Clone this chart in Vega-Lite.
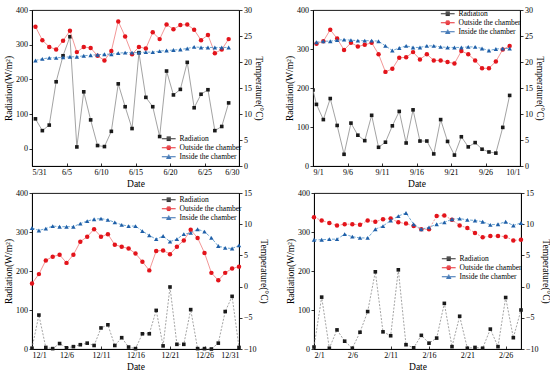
{
"$schema":"https://vega.github.io/schema/vega-lite/v6.json",
"background":"white",
"padding":{"left":3,"top":5,"right":2,"bottom":2},
"config":{
 "font":"Liberation Serif",
 "view":{"stroke":"#000","strokeWidth":0.9},
 "axis":{"grid":false,"labelOverlap":false,"domainColor":"#000","domainWidth":0.9,"tickColor":"#000","tickWidth":0.8,"tickSize":3,"labelColor":"#000","labelFont":"Liberation Serif","labelFontSize":8,"labelPadding":1.5,"titleColor":"#000","titleFont":"Liberation Serif","titleFontSize":9.5,"titleFontWeight":"normal","titlePadding":2},
 "axisX":{"tickSize":-3,"labelPadding":5,"titlePadding":2},
 "legend":{"labelFont":"Liberation Serif","labelFontSize":7.5,"labelColor":"#000","symbolSize":36,"rowPadding":0,"labelOffset":7,"symbolStrokeWidth":0.9,"orient":"none","title":null}
},
"datasets":{
"jun":[
{"d":0.5,"rad":86,"out":26.8,"ins":20.3},{"d":1.5,"rad":52,"out":24.2,"ins":20.6},{"d":2.5,"rad":68,"out":22.9,"ins":20.8},{"d":3.5,"rad":193,"out":22.4,"ins":20.8},{"d":4.5,"rad":268,"out":24.1,"ins":20.9},{"d":5.5,"rad":323,"out":26.0,"ins":21.0},{"d":6.5,"rad":5,"out":21.9,"ins":21.0},{"d":7.5,"rad":164,"out":22.9,"ins":21.2},{"d":8.5,"rad":83,"out":22.7,"ins":21.3},{"d":9.5,"rad":9,"out":21.2,"ins":21.4},{"d":10.5,"rad":6,"out":20.3,"ins":21.5},{"d":11.5,"rad":50,"out":22.1,"ins":21.5},{"d":12.5,"rad":187,"out":27.8,"ins":21.7},{"d":13.5,"rad":121,"out":24.9,"ins":21.8},{"d":14.5,"rad":58,"out":21.5,"ins":21.8},{"d":15.5,"rad":277,"out":22.9,"ins":21.8},{"d":16.5,"rad":148,"out":22.6,"ins":21.9},{"d":17.5,"rad":121,"out":25.7,"ins":21.9},{"d":18.5,"rad":35,"out":24.4,"ins":22.1},{"d":19.5,"rad":224,"out":27.2,"ins":22.2},{"d":20.5,"rad":155,"out":26.3,"ins":22.3},{"d":21.5,"rad":171,"out":27.1,"ins":22.4},{"d":22.5,"rad":249,"out":27.2,"ins":22.6},{"d":23.5,"rad":118,"out":26.2,"ins":22.9},{"d":24.5,"rad":157,"out":24.2,"ins":22.8},{"d":25.5,"rad":170,"out":25.2,"ins":22.8},{"d":26.5,"rad":52,"out":21.7,"ins":22.8},{"d":27.5,"rad":64,"out":22.4,"ins":22.8},{"d":28.5,"rad":132,"out":24.4,"ins":22.8}
],
"sep":[
{"d":0,"rad":195,"out":null,"ins":null},
{"d":0.5,"rad":158,"out":23.5,"ins":23.8},{"d":1.5,"rad":119,"out":24.0,"ins":24.0},{"d":2.5,"rad":173,"out":26.2,"ins":24.0},{"d":3.5,"rad":104,"out":24.5,"ins":24.2},{"d":4.5,"rad":30,"out":22.3,"ins":24.3},{"d":5.5,"rad":110,"out":23.7,"ins":24.2},{"d":6.5,"rad":79,"out":23.0,"ins":24.1},{"d":7.5,"rad":65,"out":23.3,"ins":24.1},{"d":8.5,"rad":130,"out":23.7,"ins":24.1},{"d":9.5,"rad":48,"out":21.5,"ins":24.0},{"d":10.5,"rad":61,"out":18.1,"ins":23.1},{"d":11.5,"rad":103,"out":18.7,"ins":22.2},{"d":12.5,"rad":140,"out":20.8,"ins":22.7},{"d":13.5,"rad":59,"out":20.9,"ins":23.1},{"d":14.5,"rad":144,"out":21.9,"ins":22.8},{"d":15.5,"rad":64,"out":20.5,"ins":22.8},{"d":16.5,"rad":64,"out":21.5,"ins":23.1},{"d":17.5,"rad":31,"out":20.3,"ins":23.1},{"d":18.5,"rad":119,"out":20.3,"ins":22.9},{"d":19.5,"rad":63,"out":20.0,"ins":22.8},{"d":20.5,"rad":28,"out":19.7,"ins":22.8},{"d":21.5,"rad":75,"out":22.1,"ins":22.8},{"d":22.5,"rad":49,"out":21.5,"ins":22.9},{"d":23.5,"rad":60,"out":20.3,"ins":22.9},{"d":24.5,"rad":43,"out":18.8,"ins":22.6},{"d":25.5,"rad":36,"out":18.8,"ins":22.2},{"d":26.5,"rad":33,"out":20.1,"ins":22.5},{"d":27.5,"rad":99,"out":22.4,"ins":22.6},{"d":28.5,"rad":181,"out":23.1,"ins":22.6}
],
"dec":[
{"d":0,"rad":2,"out":0.5,"ins":9.4},{"d":1,"rad":87,"out":2.0,"ins":9.0},{"d":2,"rad":4,"out":4.2,"ins":9.3},{"d":3,"rad":1,"out":4.8,"ins":9.7},{"d":4,"rad":14,"out":5.1,"ins":9.6},{"d":5,"rad":3,"out":3.8,"ins":9.6},{"d":6,"rad":6,"out":5.1,"ins":9.6},{"d":7,"rad":11,"out":7.2,"ins":10.1},{"d":8,"rad":15,"out":8.0,"ins":10.5},{"d":9,"rad":9,"out":9.2,"ins":10.8},{"d":10,"rad":54,"out":8.0,"ins":10.9},{"d":11,"rad":62,"out":8.4,"ins":10.7},{"d":12,"rad":9,"out":6.7,"ins":10.3},{"d":13,"rad":29,"out":6.4,"ins":9.9},{"d":14,"rad":5,"out":6.1,"ins":9.7},{"d":15,"rad":1,"out":5.3,"ins":9.7},{"d":16,"rad":39,"out":4.0,"ins":8.9},{"d":17,"rad":39,"out":2.6,"ins":8.2},{"d":18,"rad":99,"out":5.7,"ins":7.6},{"d":19,"rad":8,"out":5.8,"ins":8.1},{"d":20,"rad":159,"out":5.2,"ins":7.2},{"d":21,"rad":12,"out":6.4,"ins":7.6},{"d":22,"rad":12,"out":7.4,"ins":8.4},{"d":23,"rad":101,"out":9.1,"ins":8.6},{"d":24,"rad":1,"out":7.8,"ins":9.2},{"d":25,"rad":1,"out":5.4,"ins":8.8},{"d":26,"rad":0,"out":2.2,"ins":7.8},{"d":27,"rad":15,"out":1.0,"ins":6.5},{"d":28,"rad":96,"out":2.2,"ins":6.2},{"d":29,"rad":135,"out":2.9,"ins":6.1},{"d":30,"rad":4,"out":3.2,"ins":6.6}
],
"feb":[
{"d":0,"rad":5,"out":11.1,"ins":7.5},{"d":1,"rad":133,"out":10.6,"ins":7.5},{"d":2,"rad":2,"out":10.2,"ins":7.6},{"d":3,"rad":49,"out":9.8,"ins":7.6},{"d":4,"rad":20,"out":10.0,"ins":8.4},{"d":5,"rad":2,"out":10.0,"ins":8.0},{"d":6,"rad":43,"out":9.9,"ins":7.8},{"d":7,"rad":96,"out":10.6,"ins":7.8},{"d":8,"rad":198,"out":10.4,"ins":9.2},{"d":9,"rad":44,"out":10.8,"ins":9.7},{"d":10,"rad":34,"out":10.9,"ins":10.6},{"d":11,"rad":203,"out":10.3,"ins":11.3},{"d":12,"rad":11,"out":10.1,"ins":11.8},{"d":13,"rad":3,"out":9.7,"ins":10.0},{"d":14,"rad":35,"out":9.2,"ins":9.2},{"d":15,"rad":15,"out":9.2,"ins":9.5},{"d":16,"rad":28,"out":11.3,"ins":10.0},{"d":17,"rad":117,"out":11.4,"ins":10.3},{"d":18,"rad":6,"out":10.7,"ins":10.8},{"d":19,"rad":84,"out":9.8,"ins":10.9},{"d":20,"rad":2,"out":9.4,"ins":10.7},{"d":21,"rad":4,"out":8.6,"ins":10.6},{"d":22,"rad":2,"out":7.9,"ins":10.4},{"d":23,"rad":51,"out":8.1,"ins":9.9},{"d":24,"rad":6,"out":8.1,"ins":10.0},{"d":25,"rad":132,"out":8.0,"ins":10.4},{"d":26,"rad":29,"out":7.4,"ins":9.8},{"d":27,"rad":100,"out":7.5,"ins":10.2}
]
},
"spacing":0,
"resolve":{"scale":{"shape":"independent","color":"independent"}},
"vconcat":[
{"spacing":20,
 "resolve":{"scale":{"shape":"independent","color":"independent"}},
 "hconcat":[
 {"width":207,"height":156,"data":{"name":"jun"},
  "encoding":{"x":{"field":"d","type":"quantitative","scale":{"domain":[0,30],"nice":false,"zero":false},"axis":{"values":[0,5,10,15,20,25,30],"labelExpr":"['5/31','6/5','6/10','6/15','6/20','6/25','6/30'][round(datum.value/5)]","title":"Date"}}},
  "layer":[
   {"layer":[
     {"mark":{"type":"line","color":"#8c8c8c","strokeWidth":0.8},"encoding":{"y":{"field":"rad","type":"quantitative","scale":{"domain":[-50,400],"nice":false,"zero":false},"axis":{"orient":"left","values":[0,100,200,300,400],"title":"Radiation(W/m²)"}}}},
     {"mark":{"type":"point","shape":"square","filled":true,"color":"#1a1a1a","size":13,"opacity":1},"encoding":{"y":{"field":"rad","type":"quantitative","axis":{"orient":"left","values":[0,100,200,300,400],"title":"Radiation(W/m²)"}}}}
   ]},
   {"layer":[
     {"mark":{"type":"line","color":"#ef7c7c","strokeWidth":0.8},"encoding":{"y":{"field":"out","type":"quantitative","scale":{"domain":[0,30],"nice":false,"zero":false},"axis":{"orient":"right","values":[0,5,10,15,20,25,30],"title":"Temperature(°C)"}}}},
     {"mark":{"type":"point","shape":"circle","filled":true,"color":"#e3141b","size":20,"opacity":1},"encoding":{"y":{"field":"out","type":"quantitative","axis":{"orient":"right","values":[0,5,10,15,20,25,30],"title":"Temperature(°C)"}}}},
     {"mark":{"type":"line","color":"#4a90c8","strokeWidth":0.8,"strokeDash":[3,1.5]},"encoding":{"y":{"field":"ins","type":"quantitative","axis":{"orient":"right","values":[0,5,10,15,20,25,30],"title":"Temperature(°C)"}}}},
     {"mark":{"type":"point","shape":"triangle-up","filled":true,"color":"#1f5fa8","size":20,"opacity":1},"encoding":{"y":{"field":"ins","type":"quantitative","axis":{"orient":"right","values":[0,5,10,15,20,25,30],"title":"Temperature(°C)"}}}},
     {"transform":[{"filter":"false"}],"mark":{"type":"point","filled":false,"opacity":1,"strokeWidth":0.9},
      "encoding":{
       "shape":{"field":"series","type":"nominal","scale":{"domain":["Radiation","Outside the chamber","Inside the chamber"],"range":["M-2.3,0H2.3M-0.7,-0.6H0.7M-0.7,-0.3H0.7M-0.7,0.3H0.7M-0.7,0.6H0.7","M-2.3,0H2.3M-0.53,-0.6H0.53M-0.74,-0.3H0.74M-0.74,0.3H0.74M-0.53,0.6H0.53","M-2.3,0H2.3M-0.15,-0.6H0.15M-0.32,-0.3H0.32M-0.67,0.3H0.67M-0.82,0.55H0.82"]},"legend":{"legendX":133,"legendY":125}},
       "color":{"field":"series","type":"nominal","scale":{"domain":["Radiation","Outside the chamber","Inside the chamber"],"range":["#1a1a1a","#e3141b","#1f5fa8"]},"legend":{"legendX":133,"legendY":125}}
      }}
   ]}
  ],
  "resolve":{"scale":{"y":"independent"}}
 },
 {"width":207,"height":156,"data":{"name":"sep"},
  "encoding":{"x":{"field":"d","type":"quantitative","scale":{"domain":[0,30],"nice":false,"zero":false},"axis":{"values":[0,5,10,15,20,25,30],"labelExpr":"['9/1','9/6','9/11','9/16','9/21','9/26','10/1'][round(datum.value/5)]","title":"Date"}}},
  "layer":[
   {"layer":[
     {"mark":{"type":"line","color":"#8c8c8c","strokeWidth":0.8,"clip":true},"encoding":{"y":{"field":"rad","type":"quantitative","scale":{"domain":[0,400],"nice":false,"zero":false},"axis":{"orient":"left","values":[0,100,200,300,400],"title":"Radiation(W/m²)"}}}},
     {"mark":{"type":"point","shape":"square","filled":true,"color":"#1a1a1a","size":13,"opacity":1,"clip":true},"encoding":{"y":{"field":"rad","type":"quantitative","axis":{"orient":"left","values":[0,100,200,300,400],"title":"Radiation(W/m²)"}}}}
   ]},
   {"layer":[
     {"mark":{"type":"line","color":"#ef7c7c","strokeWidth":0.8},"encoding":{"y":{"field":"out","type":"quantitative","scale":{"domain":[0,30],"nice":false,"zero":false},"axis":{"orient":"right","values":[0,5,10,15,20,25,30],"title":"Temperature(°C)"}}}},
     {"mark":{"type":"point","shape":"circle","filled":true,"color":"#e3141b","size":20,"opacity":1},"encoding":{"y":{"field":"out","type":"quantitative","axis":{"orient":"right","values":[0,5,10,15,20,25,30],"title":"Temperature(°C)"}}}},
     {"mark":{"type":"line","color":"#4a90c8","strokeWidth":0.8,"strokeDash":[3,1.5]},"encoding":{"y":{"field":"ins","type":"quantitative","axis":{"orient":"right","values":[0,5,10,15,20,25,30],"title":"Temperature(°C)"}}}},
     {"mark":{"type":"point","shape":"triangle-up","filled":true,"color":"#1f5fa8","size":20,"opacity":1},"encoding":{"y":{"field":"ins","type":"quantitative","axis":{"orient":"right","values":[0,5,10,15,20,25,30],"title":"Temperature(°C)"}}}},
     {"transform":[{"filter":"false"}],"mark":{"type":"point","filled":false,"opacity":1,"strokeWidth":0.9},
      "encoding":{
       "shape":{"field":"series","type":"nominal","scale":{"domain":["Radiation","Outside the chamber","Inside the chamber"],"range":["M-2.3,0H2.3M-0.7,-0.6H0.7M-0.7,-0.3H0.7M-0.7,0.3H0.7M-0.7,0.6H0.7","M-2.3,0H2.3M-0.53,-0.6H0.53M-0.74,-0.3H0.74M-0.74,0.3H0.74M-0.53,0.6H0.53","M-2.3,0H2.3M-0.15,-0.6H0.15M-0.32,-0.3H0.32M-0.67,0.3H0.67M-0.82,0.55H0.82"]},"legend":{"legendX":131,"legendY":0}},
       "color":{"field":"series","type":"nominal","scale":{"domain":["Radiation","Outside the chamber","Inside the chamber"],"range":["#1a1a1a","#e3141b","#1f5fa8"]},"legend":{"legendX":131,"legendY":0}}
      }}
   ]}
  ],
  "resolve":{"scale":{"y":"independent"}}
 }
 ]},
{"spacing":16,
 "resolve":{"scale":{"shape":"independent","color":"independent"}},
 "hconcat":[
 {"width":207,"height":156,"data":{"name":"dec"},
  "encoding":{"x":{"field":"d","type":"quantitative","scale":{"domain":[0,30],"nice":false,"zero":false},"axis":{"values":[0,5,10,15,20,25,30],"labelExpr":"['12/1','12/6','12/11','12/16','12/21','12/26','12/31'][round(datum.value/5)]","title":"Date"}}},
  "layer":[
   {"layer":[
     {"mark":{"type":"line","color":"#8c8c8c","strokeWidth":0.8,"strokeDash":[2,1.5]},"encoding":{"y":{"field":"rad","type":"quantitative","scale":{"domain":[0,400],"nice":false,"zero":false},"axis":{"orient":"left","values":[0,100,200,300,400],"title":"Radiation(W/m²)"}}}},
     {"mark":{"type":"point","shape":"square","filled":true,"color":"#1a1a1a","size":13,"opacity":1},"encoding":{"y":{"field":"rad","type":"quantitative","axis":{"orient":"left","values":[0,100,200,300,400],"title":"Radiation(W/m²)"}}}}
   ]},
   {"layer":[
     {"mark":{"type":"line","color":"#ef7c7c","strokeWidth":0.8},"encoding":{"y":{"field":"out","type":"quantitative","scale":{"domain":[-10,15],"nice":false,"zero":false},"axis":{"orient":"right","values":[-10,-5,0,5,10,15],"title":"Temperature(°C)"}}}},
     {"mark":{"type":"point","shape":"circle","filled":true,"color":"#e3141b","size":20,"opacity":1},"encoding":{"y":{"field":"out","type":"quantitative","axis":{"orient":"right","values":[-10,-5,0,5,10,15],"title":"Temperature(°C)"}}}},
     {"mark":{"type":"line","color":"#4a90c8","strokeWidth":0.8,"strokeDash":[3,1.5]},"encoding":{"y":{"field":"ins","type":"quantitative","axis":{"orient":"right","values":[-10,-5,0,5,10,15],"title":"Temperature(°C)"}}}},
     {"mark":{"type":"point","shape":"triangle-up","filled":true,"color":"#1f5fa8","size":20,"opacity":1},"encoding":{"y":{"field":"ins","type":"quantitative","axis":{"orient":"right","values":[-10,-5,0,5,10,15],"title":"Temperature(°C)"}}}},
     {"transform":[{"filter":"false"}],"mark":{"type":"point","filled":false,"opacity":1,"strokeWidth":0.9},
      "encoding":{
       "shape":{"field":"series","type":"nominal","scale":{"domain":["Radiation","Outside the chamber","Inside the chamber"],"range":["M-2.3,0H2.3M-0.7,-0.6H0.7M-0.7,-0.3H0.7M-0.7,0.3H0.7M-0.7,0.6H0.7","M-2.3,0H2.3M-0.53,-0.6H0.53M-0.74,-0.3H0.74M-0.74,0.3H0.74M-0.53,0.6H0.53","M-2.3,0H2.3M-0.15,-0.6H0.15M-0.32,-0.3H0.32M-0.67,0.3H0.67M-0.82,0.55H0.82"]},"legend":{"legendX":133,"legendY":3}},
       "color":{"field":"series","type":"nominal","scale":{"domain":["Radiation","Outside the chamber","Inside the chamber"],"range":["#1a1a1a","#e3141b","#1f5fa8"]},"legend":{"legendX":133,"legendY":3}}
      }}
   ]}
  ],
  "resolve":{"scale":{"y":"independent"}}
 },
 {"width":207,"height":156,"data":{"name":"feb"},
  "encoding":{"x":{"field":"d","type":"quantitative","scale":{"domain":[0,27],"nice":false,"zero":false},"axis":{"values":[0,5,10,15,20,25],"labelExpr":"['2/1','2/6','2/11','2/16','2/21','2/26'][round(datum.value/5)]","title":"Date"}}},
  "layer":[
   {"layer":[
     {"mark":{"type":"line","color":"#8c8c8c","strokeWidth":0.8,"strokeDash":[2,1.5]},"encoding":{"y":{"field":"rad","type":"quantitative","scale":{"domain":[0,400],"nice":false,"zero":false},"axis":{"orient":"left","values":[0,100,200,300,400],"title":"Radiation(W/m²)"}}}},
     {"mark":{"type":"point","shape":"square","filled":true,"color":"#1a1a1a","size":13,"opacity":1},"encoding":{"y":{"field":"rad","type":"quantitative","axis":{"orient":"left","values":[0,100,200,300,400],"title":"Radiation(W/m²)"}}}}
   ]},
   {"layer":[
     {"mark":{"type":"line","color":"#ef7c7c","strokeWidth":0.8,"strokeDash":[2,1.5]},"encoding":{"y":{"field":"out","type":"quantitative","scale":{"domain":[-10,15],"nice":false,"zero":false},"axis":{"orient":"right","values":[-10,-5,0,5,10,15],"title":"Temperature(°C)"}}}},
     {"mark":{"type":"point","shape":"circle","filled":true,"color":"#e3141b","size":20,"opacity":1},"encoding":{"y":{"field":"out","type":"quantitative","axis":{"orient":"right","values":[-10,-5,0,5,10,15],"title":"Temperature(°C)"}}}},
     {"mark":{"type":"line","color":"#4a90c8","strokeWidth":0.8,"strokeDash":[3,1.5]},"encoding":{"y":{"field":"ins","type":"quantitative","axis":{"orient":"right","values":[-10,-5,0,5,10,15],"title":"Temperature(°C)"}}}},
     {"mark":{"type":"point","shape":"triangle-up","filled":true,"color":"#1f5fa8","size":20,"opacity":1},"encoding":{"y":{"field":"ins","type":"quantitative","axis":{"orient":"right","values":[-10,-5,0,5,10,15],"title":"Temperature(°C)"}}}},
     {"transform":[{"filter":"false"}],"mark":{"type":"point","filled":false,"opacity":1,"strokeWidth":0.9},
      "encoding":{
       "shape":{"field":"series","type":"nominal","scale":{"domain":["Radiation","Outside the chamber","Inside the chamber"],"range":["M-2.3,0H2.3M-0.7,-0.6H0.7M-0.7,-0.3H0.7M-0.7,0.3H0.7M-0.7,0.6H0.7","M-2.3,0H2.3M-0.53,-0.6H0.53M-0.74,-0.3H0.74M-0.74,0.3H0.74M-0.53,0.6H0.53","M-2.3,0H2.3M-0.15,-0.6H0.15M-0.32,-0.3H0.32M-0.67,0.3H0.67M-0.82,0.55H0.82"]},"legend":{"legendX":131,"legendY":62}},
       "color":{"field":"series","type":"nominal","scale":{"domain":["Radiation","Outside the chamber","Inside the chamber"],"range":["#1a1a1a","#e3141b","#1f5fa8"]},"legend":{"legendX":131,"legendY":62}}
      }}
   ]}
  ],
  "resolve":{"scale":{"y":"independent"}}
 }
 ]}
]
}
